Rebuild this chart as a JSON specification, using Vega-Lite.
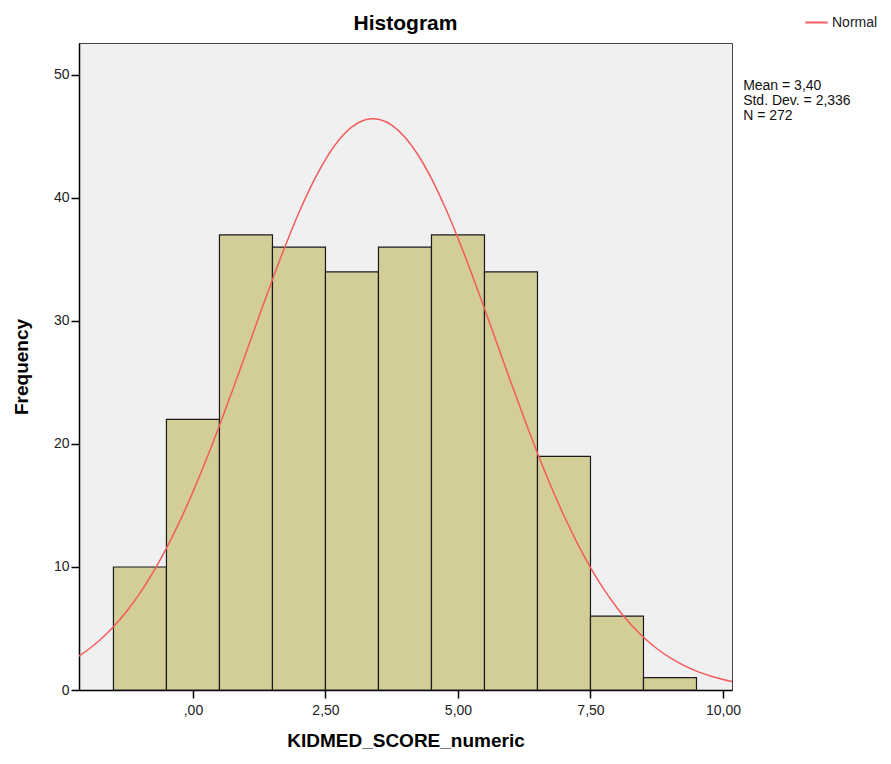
{
  "$schema": "https://vega.github.io/schema/vega-lite/v6.json",
  "width": 653,
  "height": 647,
  "autosize": {"type": "none"},
  "padding": {"left": 79, "top": 43, "right": 159, "bottom": 74},
  "background": "white",
  "config": {
    "font": "Liberation Sans",
    "view": {"fill": "#f0f0f0", "stroke": "#444444", "strokeWidth": 1}
  },
  "title": {
    "text": "Histogram",
    "fontSize": 21,
    "fontWeight": "bold",
    "font": "Liberation Sans",
    "color": "#000000",
    "anchor": "middle",
    "frame": "group",
    "offset": -24
  },
  "datasets": {
    "bins": [
      {"score": -1, "count": 10},
      {"score": 0, "count": 22},
      {"score": 1, "count": 37},
      {"score": 2, "count": 36},
      {"score": 3, "count": 34},
      {"score": 4, "count": 36},
      {"score": 5, "count": 37},
      {"score": 6, "count": 34},
      {"score": 7, "count": 19},
      {"score": 8, "count": 6},
      {"score": 9, "count": 1}
    ],
    "curve": [
      {"x": -2.15, "y": 2.762}, {"x": -2.0, "y": 3.211}, {"x": -1.75, "y": 4.089}, {"x": -1.5, "y": 5.147},
      {"x": -1.25, "y": 6.406}, {"x": -1.0, "y": 7.881}, {"x": -0.75, "y": 9.586}, {"x": -0.5, "y": 11.528},
      {"x": -0.25, "y": 13.704}, {"x": 0.0, "y": 16.107}, {"x": 0.25, "y": 18.712}, {"x": 0.5, "y": 21.495},
      {"x": 0.75, "y": 24.408}, {"x": 1.0, "y": 27.4}, {"x": 1.25, "y": 30.413}, {"x": 1.5, "y": 33.367},
      {"x": 1.75, "y": 36.194}, {"x": 2.0, "y": 38.814}, {"x": 2.25, "y": 41.148}, {"x": 2.5, "y": 43.127},
      {"x": 2.75, "y": 44.686}, {"x": 3.0, "y": 45.774}, {"x": 3.25, "y": 46.354}, {"x": 3.4, "y": 46.45},
      {"x": 3.5, "y": 46.407}, {"x": 3.75, "y": 45.932}, {"x": 4.0, "y": 44.943}, {"x": 4.25, "y": 43.474},
      {"x": 4.5, "y": 41.576}, {"x": 4.75, "y": 39.307}, {"x": 5.0, "y": 36.739}, {"x": 5.25, "y": 33.947},
      {"x": 5.5, "y": 31.01}, {"x": 5.75, "y": 28.006}, {"x": 6.0, "y": 25.002}, {"x": 6.25, "y": 22.068},
      {"x": 6.5, "y": 19.257}, {"x": 6.75, "y": 16.611}, {"x": 7.0, "y": 14.168}, {"x": 7.25, "y": 11.945},
      {"x": 7.5, "y": 9.956}, {"x": 7.75, "y": 8.203}, {"x": 8.0, "y": 6.684}, {"x": 8.25, "y": 5.382},
      {"x": 8.5, "y": 4.285}, {"x": 8.75, "y": 3.374}, {"x": 9.0, "y": 2.625}, {"x": 9.25, "y": 2.019},
      {"x": 9.5, "y": 1.536}, {"x": 9.75, "y": 1.155}, {"x": 10.0, "y": 0.858}, {"x": 10.17, "y": 0.69}
    ],
    "stats": [
      {"label": "Mean = 3,40\nStd. Dev. = 2,336\nN = 272"}
    ]
  },
  "layer": [
    {
      "data": {"name": "bins"},
      "transform": [
        {"calculate": "datum.score - 0.5", "as": "lo"},
        {"calculate": "datum.score + 0.5", "as": "hi"}
      ],
      "mark": {"type": "rect", "fill": "#d3ce97", "stroke": "#1a1a1a", "strokeWidth": 1.2},
      "encoding": {
        "x": {
          "field": "lo", "type": "quantitative",
          "scale": {"domain": [-2.15, 10.17], "nice": false, "zero": false},
          "axis": {
            "title": "KIDMED_SCORE_numeric",
            "titleFontSize": 19, "titleFontWeight": "bold", "titleColor": "#000000",
            "titlePadding": 14,
            "values": [0, 2.5, 5, 7.5, 10],
            "labelExpr": "datum.value == 0 ? ',00' : replace(format(datum.value, '.2f'), '.', ',')",
            "labelFontSize": 14, "labelColor": "#222222", "labelPadding": 5,
            "tickSize": 8, "tickColor": "#000000", "tickWidth": 1.5,
            "domainColor": "#000000", "domainWidth": 1.5,
            "grid": false
          }
        },
        "x2": {"field": "hi"},
        "y": {
          "field": "count", "type": "quantitative",
          "scale": {"domain": [0, 52.6], "nice": false},
          "axis": {
            "title": "Frequency",
            "titleFontSize": 19, "titleFontWeight": "bold", "titleColor": "#000000",
            "titlePadding": 22,
            "values": [0, 10, 20, 30, 40, 50],
            "labelFontSize": 14, "labelColor": "#222222", "labelPadding": 2,
            "tickSize": 8, "tickColor": "#000000", "tickWidth": 1.5,
            "domainColor": "#000000", "domainWidth": 1.5,
            "grid": false
          }
        },
        "y2": {"datum": 0}
      }
    },
    {
      "data": {"name": "curve"},
      "mark": {"type": "line", "strokeWidth": 1.5, "interpolate": "monotone", "clip": true},
      "encoding": {
        "x": {"field": "x", "type": "quantitative"},
        "y": {"field": "y", "type": "quantitative"},
        "color": {
          "datum": "Normal",
          "type": "nominal",
          "scale": {"domain": ["Normal"], "range": ["#f25c5c"]},
          "legend": {
            "title": null,
            "orient": "none",
            "legendX": 725,
            "legendY": -33,
            "symbolType": "stroke",
            "symbolSize": 500,
            "symbolStrokeWidth": 2,
            "labelFontSize": 14,
            "labelColor": "#222222",
            "labelOffset": 3
          }
        }
      }
    },
    {
      "data": {"name": "stats"},
      "mark": {"type": "text", "align": "left", "baseline": "top", "fontSize": 14, "lineHeight": 15, "lineBreak": "\n", "color": "#111111", "clip": false},
      "encoding": {
        "x": {"datum": 10.38, "type": "quantitative"},
        "y": {"datum": 49.7, "type": "quantitative"},
        "text": {"field": "label"}
      }
    }
  ]
}
